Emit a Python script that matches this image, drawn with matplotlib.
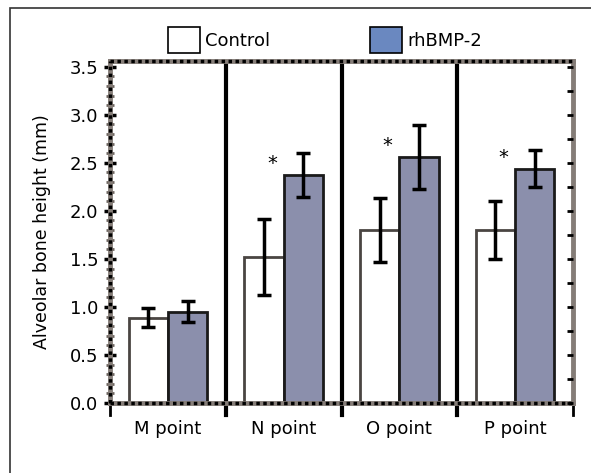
import numpy as np
import matplotlib.pyplot as plt
from matplotlib.patches import Rectangle, Patch
from matplotlib.ticker import MultipleLocator

# Data
groups = ["M point", "N point", "O point", "P point"]
control_mean = [0.89, 1.52, 1.80, 1.80]
control_err = [0.10, 0.40, 0.33, 0.30]
bmp_mean = [0.95, 2.37, 2.56, 2.44]
bmp_err = [0.11, 0.23, 0.33, 0.19]
significant = [False, True, True, True]

fs = 13
fig = plt.figure(figsize=(5.91, 4.73), dpi=100)
ax = fig.add_axes([110 / 591, 1 - 403 / 473, 463 / 591, 342 / 473])

x = np.arange(len(groups)) + 0.5
w = 0.34
bar_fill = "#8b8fac"

ax.bar(x - w / 2, control_mean, w, color="white", edgecolor="#4a4542", linewidth=2, zorder=2)
ax.bar(x + w / 2, bmp_mean, w, color=bar_fill, edgecolor="#1a1a1a", linewidth=2, zorder=2)
ax.errorbar(x - w / 2, control_mean, yerr=control_err, fmt="none", ecolor="black",
            elinewidth=2.5, capsize=5, capthick=2.5, zorder=3)
ax.errorbar(x + w / 2, bmp_mean, yerr=bmp_err, fmt="none", ecolor="black",
            elinewidth=2.5, capsize=5, capthick=2.5, zorder=3)

for xi, m, sig in zip(x, bmp_mean, significant):
    if sig:
        ax.text(xi - 0.1, m + 0.12, "*", ha="center", va="center", fontsize=14)

# panel dividers
for d in range(1, len(groups)):
    ax.axvline(d, color="black", linewidth=3, zorder=1)
    ax.plot([d, d], [-0.13, 0], color="black", linewidth=3, clip_on=False)
ax.plot([len(groups)] * 2, [-0.13, 0], color="black", linewidth=2, clip_on=False)
ax.plot([0, 0], [-0.13, 0], color="black", linewidth=2, clip_on=False)

ax.set_xlim(0, len(groups))
ax.set_ylim(0, 3.56)
ax.set_xticks(x)
ax.set_xticklabels(groups, fontsize=fs)
ax.tick_params(axis="x", length=0, pad=12)
ax.yaxis.set_major_locator(MultipleLocator(0.5))
ax.yaxis.set_minor_locator(MultipleLocator(0.1))
ax.yaxis.set_major_formatter(plt.FormatStrFormatter("%.1f"))
ax.tick_params(axis="y", which="major", direction="inout", length=9, width=2.5, labelsize=fs, pad=4)
ax.tick_params(axis="y", which="minor", direction="inout", length=6, width=2, color="#6e6660")
ax.set_ylabel("Alveolar bone height (mm)", fontsize=12.5, labelpad=13)

# ticks on the right spine
ax2 = ax.twinx()
ax2.set_ylim(ax.get_ylim())
ax2.yaxis.set_major_locator(MultipleLocator(0.25))
ax2.tick_params(axis="y", direction="in", length=4, width=2, labelright=False)
for s in ax2.spines.values():
    s.set_visible(False)

# gray frame with dotted black overlay
for name, s in ax.spines.items():
    s.set_color("#857d78")
    s.set_linewidth(3.5)
for xs, ys in [([0, 1], [1, 1]), ([0, 1], [0, 0]), ([0, 0], [0, 1])]:
    ax.plot(xs, ys, transform=ax.transAxes, color="black", linewidth=2.5,
            linestyle=(0, (1, 1)), clip_on=False, zorder=4)

# legend above the plot
handles = [Patch(facecolor="white", edgecolor="black", linewidth=1.2, label="Control"),
           Patch(facecolor="#6a88c0", edgecolor="black", linewidth=1.2, label="rhBMP-2")]
fig.legend(handles=handles, loc="center", bbox_to_anchor=(0.55, 1 - 40 / 473), ncol=2,
           frameon=False, fontsize=fs, handlelength=1.8, handleheight=1.8,
           columnspacing=5.5, handletextpad=0.3)

# outer frame (cropped at right and bottom)
fig.patches.append(Rectangle((10 / 591, -0.1), 1.2, 1 - 8 / 473 + 0.1, transform=fig.transFigure,
                             fill=False, edgecolor="#333333", linewidth=1.2))

fig.savefig("out.png", dpi=100)
